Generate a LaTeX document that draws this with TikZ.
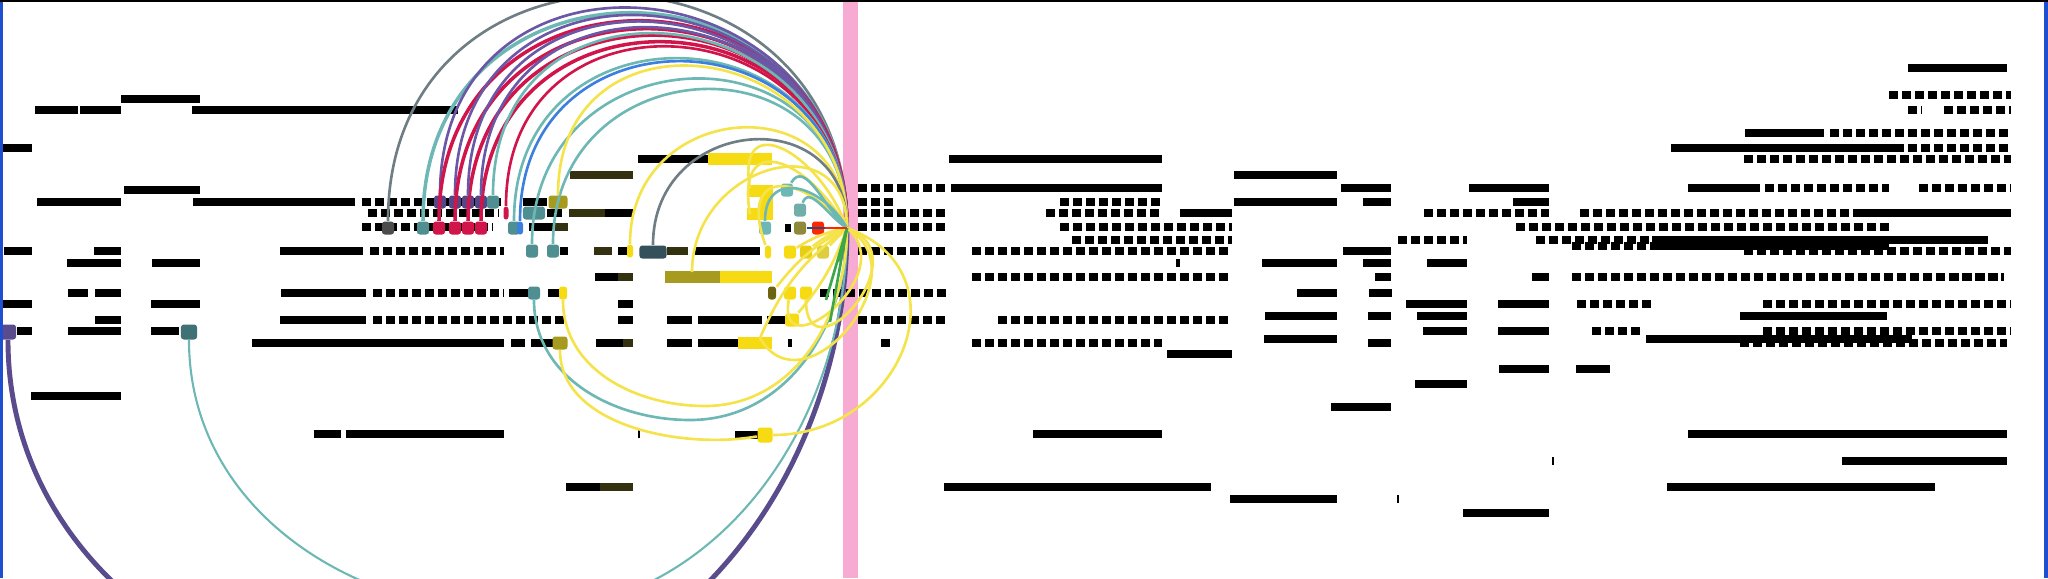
\documentclass[tikz,border=0pt]{standalone}
\usepackage[dvipsnames]{xcolor}
\usepackage{tikz}

\definecolor{tealA}{HTML}{6DB8B4}
\definecolor{tealM}{HTML}{4F8F92}
\definecolor{purpA}{HTML}{6A58A6}
\definecolor{redA}{HTML}{D0154B}
\definecolor{blueA}{HTML}{3D7FDD}
\definecolor{yelA}{HTML}{F5E34C}
\definecolor{yelM}{HTML}{F7DB12}
\definecolor{greyA}{HTML}{6F7E84}
\definecolor{oliveA}{HTML}{A69A1F}
\definecolor{oliveD}{HTML}{33310F}
\definecolor{slateA}{HTML}{34505A}
\definecolor{pinkA}{HTML}{F7AAD2}
\definecolor{greenA}{HTML}{3DA64B}
\definecolor{frameA}{HTML}{1D4FD0}

\begin{document}
\begin{tikzpicture}[x=0.01cm, y=-0.01cm,
	solidrow/.style={line width=2.2pt},
	wordrow/.style={line width=2.2pt, dash pattern=on 2.6pt off 1.1pt},
	blockrow/.style={line width=3.4pt},
	marker/.style={rectangle, rounded corners=0.8pt, minimum width=0.12cm, minimum height=0.13cm, inner sep=0pt},
	link/.style={line width=0.75pt},
	overarc/.style={out=90, in=90, looseness=1.7},
	underarc/.style={out=-90, in=-90, looseness=1.7}]
	\useasboundingbox (0,0) rectangle (2048,578);
	\clip (0,0) rectangle (2048,578);

	% pink rule
	\fill[pinkA] (843,0) rectangle (858,578);

	% black text rows, left part
	\foreach \a/\b/\y in {121/200/99, 35/78/110, 80/121/110, 192/458/110, 2/32/148, 124/200/190,
		37/121/202, 193/355/202, 523/547/202, 547/562/213, 605/633/213, 529/555/227,
		4/32/251, 94/121/251, 280/363/251, 560/568/251, 618/627/251, 695/760/251,
		67/121/263, 152/200/263, 595/618/277,
		68/88/293, 95/121/293, 281/366/293, 509/529/293, 548/560/293,
		0/32/304, 151/200/304, 618/633/304,
		95/121/320, 280/366/320, 618/633/320, 667/692/320, 698/762/320, 767/785/320,
		17/32/331, 68/121/331, 151/179/331,
		252/504/343, 511/525/343, 531/553/343, 596/623/343, 667/692/343, 698/738/343, 788/792/343, 881/890/343,
		31/121/396, 314/341/434, 346/504/434, 638/640/434, 566/600/487, 638/708/159, 785/791/228, 735/758/435}
		\draw[solidrow] (\a,\y) -- (\b,\y);
	\foreach \a/\b/\y in {362/506/202, 368/499/213, 362/493/227, 370/504/251, 373/504/293, 373/568/320,
		858/948/188, 858/894/202, 858/948/213, 858/948/227, 858/948/251, 820/948/293, 858/948/320}
		\draw[wordrow] (\a,\y) -- (\b,\y);

	% black text rows, right part
	\foreach \a/\b/\y in {1908/2007/68, 1745/1824/133, 1671/1904/148, 949/1162/159, 1234/1337/175,
		951/1162/188, 1341/1391/188, 1469/1549/188, 1688/1760/188,
		1234/1337/202, 1363/1391/202, 1513/1549/202, 1180/1232/213, 1862/2011/213,
		1652/1988/240, 1652/1889/246, 1343/1391/251,
		1262/1337/263, 1363/1391/263, 1427/1467/263, 1176/1180/263,
		1375/1391/277, 1532/1549/277, 1297/1337/293, 1369/1392/293,
		1406/1467/304, 1498/1549/304, 1265/1337/316, 1368/1391/316, 1417/1467/316, 1740/1887/316,
		1423/1467/331, 1498/1549/331, 1264/1337/339, 1646/1912/339, 1368/1391/343,
		1167/1232/354, 1499/1549/369, 1576/1610/369, 1415/1467/384, 1331/1391/407,
		1033/1162/434, 1688/2007/434, 1552/1554/461, 1842/2007/461,
		944/1211/487, 1667/1935/487, 1230/1337/499, 1397/1399/499, 1463/1549/513}
		\draw[solidrow] (\a,\y) -- (\b,\y);
	\foreach \a/\b/\y in {1889/2011/95, 1908/1922/110, 1944/2011/110, 1830/2011/133, 1908/2011/148, 1744/2011/159,
		1765/1889/188, 1919/2011/188, 1060/1162/202, 1046/1162/213, 1424/1549/213, 1580/1862/213,
		1060/1232/227, 1516/1889/227, 1072/1232/240, 1398/1467/240, 1536/1652/240, 1572/1652/246,
		972/1232/251, 1744/2011/251, 972/1232/277, 1572/2004/277,
		1577/1652/304, 1763/2011/304, 998/1232/320, 1592/1641/331, 1763/2011/331,
		972/1162/343, 1740/2007/343}
		\draw[wordrow] (\a,\y) -- (\b,\y);

	% coloured text rows
	\foreach \a/\b/\y in {569/605/213, 594/612/251, 667/688/251, 618/633/277, 623/633/343, 570/633/175, 600/633/487, 555/568/227}
		\draw[solidrow, oliveD] (\a,\y) -- (\b,\y);
	\draw[blockrow, oliveA] (665,277) -- (720,277);
	\draw[blockrow, yelM] (720,277) -- (772,277);
	\draw[blockrow, yelM] (708,159) -- (772,159);
	\draw[blockrow, yelM] (738,343) -- (772,343);
	\draw[solidrow, yelM] (627,251) -- (633,251);
	\fill[yelM] (747,185) rectangle (773,197);
	\fill[yelM] (760,197) rectangle (773,208);
	\fill[yelM] (747,208) rectangle (773,220);

	% markers
	\coordinate (hub) at (847,228);
	\node[marker, fill=purpA!85!black, minimum width=0.16cm, minimum height=0.15cm] (pu0) at (8,332) {};
	\node[marker, fill=tealM!80!black, minimum width=0.16cm, minimum height=0.15cm] (tl8) at (189,332) {};
	\node[marker, fill=black!70] (mg1) at (388,228) {};
	\node[marker, fill=tealM] (tl1) at (423,228) {};
	\node[marker, fill=redA] (rd1) at (439,228) {};
	\node[marker, fill=redA] (rd2) at (455,228) {};
	\node[marker, fill=redA] (rd3) at (468,228) {};
	\node[marker, fill=redA] (rd4) at (481,228) {};
	\node[marker, fill=purpA!80!black] (pu1) at (440,202) {};
	\node[marker, fill=purpA!80!black] (pu2) at (455,202) {};
	\node[marker, fill=purpA!80!black] (pu3) at (468,202) {};
	\node[marker, fill=purpA!80!black] (pu4) at (481,202) {};
	\node[marker, fill=tealM] (tl2) at (493,202) {};
	\node[marker, fill=redA, minimum width=0.05cm] (rd5) at (506,213) {};
	\node[marker, fill=tealM] (tl3) at (514,228) {};
	\node[marker, fill=blueA, minimum width=0.06cm] (bl1) at (520,228) {};
	\node[marker, fill=tealM, minimum width=0.22cm] (tl4) at (534,213) {};
	\node[marker, fill=tealM] (tl5) at (532,251) {};
	\node[marker, fill=tealM] (tl6) at (553,251) {};
	\node[marker, fill=tealM] (tl7) at (534,293) {};
	\node[marker, fill=yelM, minimum width=0.08cm] (ye1) at (563,293) {};
	\node[marker, fill=oliveA, minimum width=0.19cm] (ol1) at (558,202) {};
	\node[marker, fill=oliveA, minimum width=0.15cm] (ol2) at (560,343) {};
	\node[marker, fill=yelM, minimum width=0.06cm] (ye2) at (630,251) {};
	\node[marker, fill=slateA, minimum width=0.27cm] (sl1) at (653,252) {};
	\node[marker, fill=yelM, minimum width=0.15cm, minimum height=0.15cm] (ye3) at (765,435) {};
	\node[marker, fill=yelM, minimum width=0.06cm] (ye4) at (768,252) {};
	\node[marker, fill=yelM] (ye5) at (790,252) {};
	\node[marker, fill=yelM!80!oliveA] (ye6) at (806,252) {};
	\node[marker, fill=yelA!70!oliveA] (ol3) at (823,252) {};
	\node[marker, fill=oliveD!70!yelM, minimum width=0.08cm] (od1) at (772,293) {};
	\node[marker, fill=yelM] (ye7) at (790,293) {};
	\node[marker, fill=yelM] (ye8) at (806,293) {};
	\node[marker, fill=yelM, minimum width=0.14cm] (ye9) at (792,320) {};
	\node[marker, fill=tealA] (tl9) at (765,228) {};
	\node[marker, fill=olive!60!gray] (og1) at (800,228) {};
	\node[marker, fill=red!70!orange] (rd6) at (818,228) {};
	\node[marker, fill=tealA] (tl10) at (787,190) {};
	\node[marker, fill=tealA!80!gray] (tl11) at (800,210) {};
	\coordinate (yb1) at (750,188);
	\coordinate (yb2) at (750,214);
	\coordinate (yb3) at (692,272);
	\coordinate (yb4) at (760,338);
	\coordinate (gr1) at (826,300);
	\coordinate (gr2) at (830,322);
	\coordinate (gr3) at (838,262);
	% lowest points of the arcs underneath
	\coordinate (pub) at (427,703);
	\coordinate (tlb) at (518,613);
	\coordinate (tl7b) at (690,420);
	\coordinate (ye1b) at (705,406);

	% arcs over the top
	\draw[link, greyA] (mg1) to[overarc] (hub);
	\draw[link, tealA, line width=1pt] (tl1) to[overarc] (hub);
	\draw[link, purpA] (pu1) to[overarc] (hub);
	\draw[link, redA, line width=1pt] (rd1) to[overarc] (hub);
	\draw[link, purpA] (pu2) to[overarc] (hub);
	\draw[link, redA, line width=1pt] (rd2) to[overarc] (hub);
	\draw[link, redA, line width=1pt] (rd3) to[overarc] (hub);
	\draw[link, purpA] (pu3) to[overarc] (hub);
	\draw[link, redA, line width=1pt] (rd4) to[overarc] (hub);
	\draw[link, purpA] (pu4) to[overarc] (hub);
	\draw[link, tealA] (tl2) to[overarc] (hub);
	\draw[link, redA] (rd5) to[overarc] (hub);
	\draw[link, tealA] (tl3) to[overarc] (hub);
	\draw[link, blueA] (bl1) to[overarc] (hub);
	\draw[link, tealA] (tl5) to[overarc] (hub);
	\draw[link, tealA] (tl6) to[overarc] (hub);
	\draw[link, yelA] (ol1) to[overarc] (hub);
	\draw[link, yelA] (ye2) to[overarc] (hub);
	\draw[link, greyA] (sl1) to[overarc] (hub);
	\draw[link, yelA] (yb3) to[overarc] (hub);
	\draw[link, yelA] (yb1) to[out=100, in=110, looseness=2] (hub);
	\draw[link, yelA] (yb2) to[out=100, in=120, looseness=2.2] (hub);
	\draw[link, yelA] (ye4) to[out=110, in=130, looseness=2.4] (hub);
	\draw[link, tealA] (tl9) to[out=90, in=120, looseness=1.6] (hub);
	\draw[link, tealA] (tl10) to[out=60, in=140] (hub);
	\draw[link, tealA] (tl11) to[out=70, in=150] (hub);

	% arcs underneath
	\draw[link, purpA!85!black, line width=1.4pt] (pu0) to[out=-90, in=180] (pub) to[out=0, in=-90] (hub);
	\draw[link, tealA, line width=0.6pt] (tl8) to[out=-90, in=180] (tlb) to[out=0, in=-90] (hub);
	\draw[link, tealA] (tl7) to[out=-90, in=180] (tl7b) to[out=0, in=-90] (hub);
	\draw[link, yelA] (ye1) to[out=-90, in=180] (ye1b) to[out=0, in=-90] (hub);
	\draw[link, yelA] (ol2) to[out=-90, in=190, looseness=0.9] (ye3);
	\draw[link, yelA] (ye3) to[out=0, in=-20, looseness=1.5] (hub);
	\draw[link, yelA] (ye8) to[out=-90, in=-20, looseness=2.5] (hub);
	\draw[link, yelA] (ye7) to[out=-100, in=-40, looseness=2] (hub);
	\draw[link, yelA] (yb4) to[out=-60, in=-30, looseness=1.6] (hub);

	% short fan at the hub
	\draw[link, yelA] (ye5) to[bend left=10] (hub);
	\draw[link, yelA] (ye6) to[bend left=10] (hub);
	\draw[link, yelA] (ol3) -- (hub);
	\draw[link, yelA] (od1) to[bend left=12] (hub);
	\draw[link, yelA] (yb4) to[bend left=15] (hub);
	\draw[link, yelA] (ye9) to[bend right=10] (hub);
	\draw[link, greenA] (gr1) -- (hub);
	\draw[link, greenA] (gr2) -- (hub);
	\draw[link, greenA] (gr3) -- (hub);
	\draw[link, blueA!60!black] (og1) -- (hub);
	\draw[link, red!70!orange] (rd6) -- (hub);

	% frame
	\draw[frameA, line width=1.2pt] (1,0) -- (1,578);
	\draw[frameA, line width=1.2pt] (2046,0) -- (2046,578);
	\draw[black, line width=0.8pt] (0,1) -- (2048,1);
\end{tikzpicture}
\end{document}
